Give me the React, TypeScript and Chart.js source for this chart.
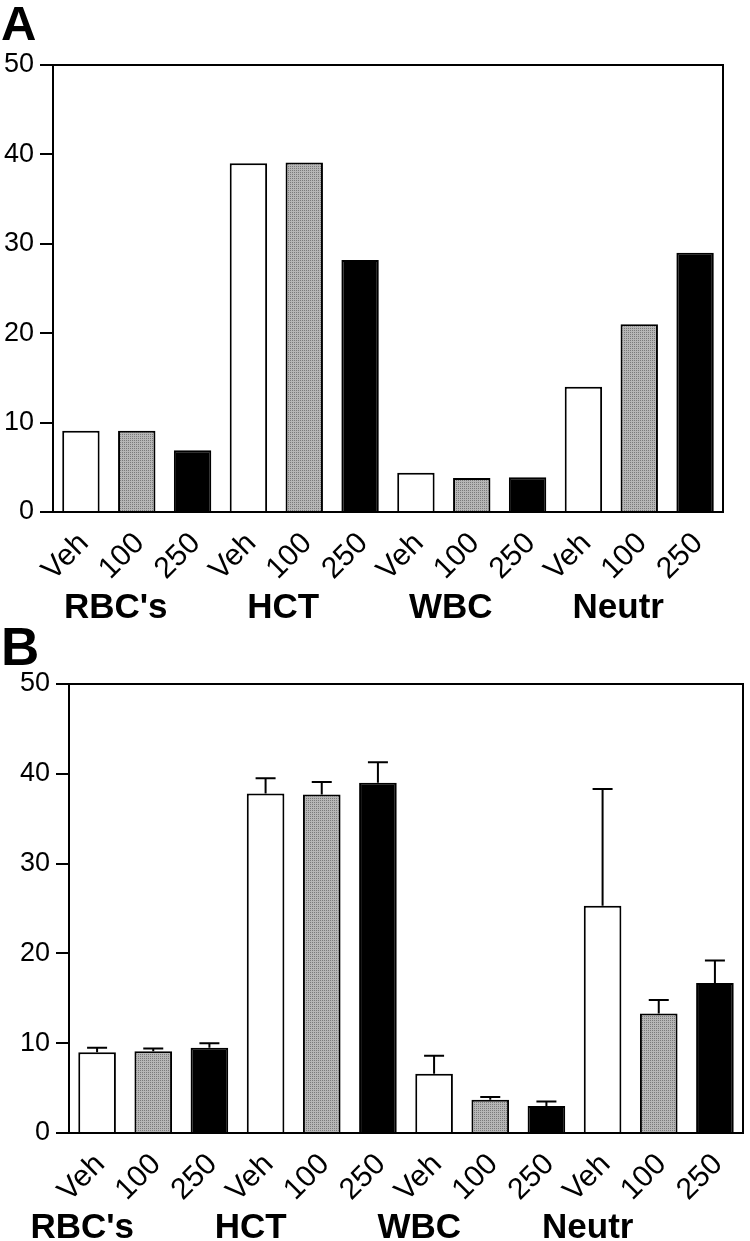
import React, { useEffect, useRef } from "react";
import { Chart, registerables } from "chart.js";

Chart.register(...registerables);

const categories = ["Veh", "100", "250", "Veh", "100", "250", "Veh", "100", "250", "Veh", "100", "250"];
const groupLabels = ["RBC's", "HCT", "WBC", "Neutr"];
const doseFill = ["white", "gray", "black", "white", "gray", "black", "white", "gray", "black", "white", "gray", "black"];
const yTickMin = 0;
const yTickMax = 50;
const yTickStep = 10;

const valuesA = [9.1, 9.1, 6.9, 39.0, 39.1, 28.2, 4.4, 3.8, 3.9, 14.0, 21.0, 29.0];
const valuesB = [9.0, 9.1, 9.5, 37.8, 37.7, 39.0, 6.6, 3.7, 3.0, 25.3, 13.3, 16.7];
const errorUpperB = [9.5, 9.4, 10.0, 39.5, 39.1, 41.3, 8.6, 4.0, 3.5, 38.3, 14.8, 19.2];

const FONT = "'Liberation Sans', Arial, Helvetica, sans-serif";

function makeGrayPattern(): CanvasPattern | string {
  const c = document.createElement("canvas");
  c.width = 2;
  c.height = 2;
  const g = c.getContext("2d");
  if (!g) return "#aaaaaa";
  g.fillStyle = "#b6b6b6";
  g.fillRect(0, 0, 2, 2);
  g.fillStyle = "#7a7a7a";
  g.fillRect(0, 0, 1, 1);
  return g.createPattern(c, "repeat") || "#aaaaaa";
}

type PanelOpts = {
  letter: string;
  values: number[];
  errors?: number[];
  yWidth: number;
  xHeight: number;
  padTop: number;
  padRight: number;
  groupOffset: number;
  groupBaseline: number;
  letterBaseline: number;
  letterSize: number;
};

function buildConfig(o: PanelOpts): any {
  const gray = makeGrayPattern();
  const fills = doseFill.map((k) => (k === "white" ? "#ffffff" : k === "gray" ? gray : "#000000"));

  const framePlugin = {
    id: "frame" + o.letter,
    afterDraw(chart: any) {
      const { ctx, chartArea } = chart;
      ctx.save();
      ctx.strokeStyle = "#000";
      ctx.lineWidth = 2;
      ctx.beginPath();
      ctx.moveTo(chartArea.left, chartArea.top);
      ctx.lineTo(chartArea.right, chartArea.top);
      ctx.lineTo(chartArea.right, chartArea.bottom);
      ctx.stroke();
      const xs = chart.scales.x;
      ctx.fillStyle = "#000";
      ctx.font = `bold 35px ${FONT}`;
      ctx.textAlign = "center";
      ctx.textBaseline = "alphabetic";
      groupLabels.forEach((g, i) => {
        const px = xs.getPixelForValue(i * 3 + 1) + o.groupOffset;
        ctx.fillText(g, px, o.groupBaseline);
      });
      ctx.font = `bold ${o.letterSize}px ${FONT}`;
      ctx.textAlign = "left";
      ctx.fillText(o.letter, 1, o.letterBaseline);
      ctx.restore();
    },
  };

  const errorPlugin = {
    id: "errors" + o.letter,
    afterDatasetsDraw(chart: any) {
      if (!o.errors) return;
      const { ctx } = chart;
      const ys = chart.scales.y;
      const meta = chart.getDatasetMeta(0);
      ctx.save();
      ctx.strokeStyle = "#000";
      ctx.lineWidth = 2;
      o.errors.forEach((up, i) => {
        const el = meta.data[i];
        if (!el) return;
        const top = ys.getPixelForValue(o.values[i]);
        const cap = ys.getPixelForValue(up);
        ctx.beginPath();
        ctx.moveTo(el.x, top);
        ctx.lineTo(el.x, cap);
        ctx.moveTo(el.x - 10, cap);
        ctx.lineTo(el.x + 10, cap);
        ctx.stroke();
      });
      ctx.restore();
    },
  };

  return {
    type: "bar",
    data: {
      labels: categories,
      datasets: [
        {
          data: o.values,
          backgroundColor: fills,
          borderColor: "#000000",
          borderWidth: 2,
          categoryPercentage: 1,
          barPercentage: 0.67,
        },
      ],
    },
    options: {
      animation: false,
      responsive: false,
      devicePixelRatio: 1,
      layout: { padding: { top: o.padTop, right: o.padRight, left: 0, bottom: 0 } },
      plugins: { legend: { display: false }, tooltip: { enabled: false }, title: { display: false } },
      scales: {
        x: {
          type: "category",
          offset: true,
          grid: { display: false, drawTicks: false },
          border: { display: true, color: "#000", width: 2 },
          ticks: {
            autoSkip: false,
            minRotation: 45,
            maxRotation: 45,
            color: "#000",
            padding: 14,
            labelOffset: 3,
            font: { size: 30, family: FONT },
          },
          afterFit(s: any) {
            s.height = o.xHeight;
            s.paddingLeft = 0;
            s.paddingRight = 0;
          },
        },
        y: {
          min: yTickMin,
          max: yTickMax,
          grid: { drawOnChartArea: false, drawTicks: true, tickLength: 13, color: "#000", lineWidth: 2 },
          border: { display: true, color: "#000", width: 2 },
          ticks: {
            stepSize: yTickStep,
            color: "#000",
            padding: 6,
            font: { size: 27, family: FONT },
          },
          afterFit(s: any) {
            s.width = o.yWidth;
          },
        },
      },
    },
    plugins: [errorPlugin, framePlugin],
  };
}

function Panel({ opts, height, top }: { opts: PanelOpts; height: number; top: number }) {
  const ref = useRef<HTMLCanvasElement | null>(null);
  useEffect(() => {
    if (!ref.current) return;
    const chart = new Chart(ref.current, buildConfig(opts));
    return () => chart.destroy();
  }, []);
  return (
    <canvas
      ref={ref}
      width={750}
      height={height}
      style={{ position: "absolute", left: 0, top, width: 750, height }}
    />
  );
}

const panelA: PanelOpts = {
  letter: "A",
  values: valuesA,
  yWidth: 53,
  xHeight: 108,
  padTop: 65,
  padRight: 27,
  groupOffset: -21,
  groupBaseline: 618,
  letterBaseline: 40,
  letterSize: 49,
};

const panelB: PanelOpts = {
  letter: "B",
  values: valuesB,
  errors: errorUpperB,
  yWidth: 69,
  xHeight: 108,
  padTop: 64,
  padRight: 7,
  groupOffset: -71,
  groupBaseline: 618,
  letterBaseline: 45,
  letterSize: 53,
};

export default function App() {
  return (
    <div style={{ position: "absolute", left: 0, top: 0, width: 750, height: 1241, background: "#fff", overflow: "hidden" }}>
      <Panel opts={panelA} height={620} top={0} />
      <Panel opts={panelB} height={621} top={620} />
    </div>
  );
}
